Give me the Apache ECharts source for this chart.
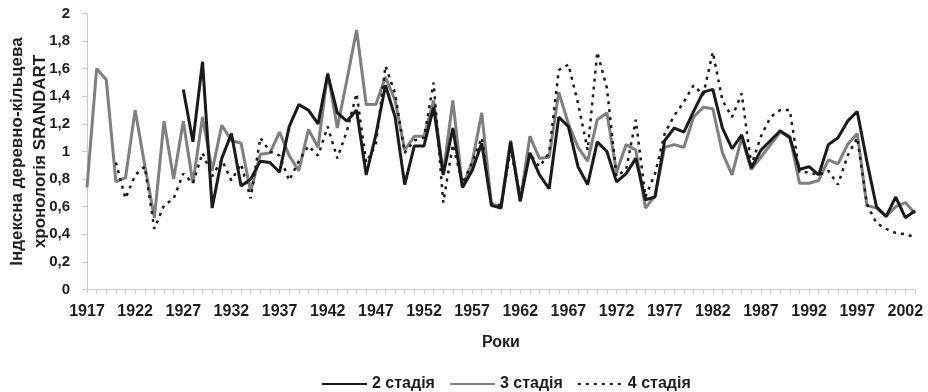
<!DOCTYPE html>
<html>
<head>
<meta charset="utf-8">
<script src="https://cdn.jsdelivr.net/npm/echarts@6/dist/echarts.min.js"></script>
<style>
  html, body { margin: 0; padding: 0; background: #fff; }
  #chart { width: 928px; height: 392px; }
</style>
</head>
<body>
<div id="chart"></div>
<script>
// Years of the tree-ring chronology
const years = [];
for (let y = 1917; y <= 2003; y++) years.push(String(y));

// Index values per stage (2 стадія begins in 1927, 4 стадія in 1920)
const stage2 = [
  null, null, null, null, null, null, null, null, null, null,
  1.45, 1.07, 1.65, 0.59, 0.95, 1.13, 0.75, 0.80, 0.93, 0.92,
  0.85, 1.18, 1.34, 1.30, 1.20, 1.56, 1.28, 1.22, 1.30, 0.83,
  1.12, 1.48, 1.25, 0.76, 1.04, 1.04, 1.32, 0.83, 1.17, 0.74,
  0.86, 1.06, 0.61, 0.59, 1.07, 0.64, 0.99, 0.83, 0.73, 1.25,
  1.18, 0.89, 0.76, 1.07, 1.00, 0.78, 0.84, 0.95, 0.65, 0.67,
  1.08, 1.17, 1.14, 1.29, 1.43, 1.45, 1.17, 1.02, 1.12, 0.88,
  1.01, 1.08, 1.15, 1.10, 0.87, 0.89, 0.83, 1.05, 1.10, 1.22,
  1.29, 0.93, 0.60, 0.53, 0.67, 0.52, 0.57
];
const stage3 = [
  0.74, 1.60, 1.52, 0.78, 0.81, 1.30, 0.90, 0.52, 1.22, 0.80,
  1.22, 0.77, 1.25, 0.86, 1.19, 1.08, 1.06, 0.71, 0.98, 0.99,
  1.14, 0.97, 0.86, 1.16, 1.03, 1.57, 1.17, 1.52, 1.88, 1.34,
  1.34, 1.54, 1.37, 1.01, 1.11, 1.11, 1.37, 0.84, 1.37, 0.74,
  0.92, 1.28, 0.62, 0.60, 1.08, 0.64, 1.11, 0.95, 0.96, 1.43,
  1.20, 1.03, 0.93, 1.23, 1.28, 0.85, 1.05, 1.01, 0.59, 0.68,
  1.03, 1.05, 1.03, 1.25, 1.32, 1.31, 0.99, 0.83, 1.10, 0.87,
  0.96, 1.05, 1.14, 1.11, 0.77, 0.77, 0.79, 0.94, 0.91, 1.05,
  1.13, 0.61, 0.59, 0.53, 0.60, 0.63, 0.55
];
const stage4 = [
  null, null, null, 0.92, 0.66, 0.83, 0.89, 0.44, 0.61, 0.66,
  0.84, 0.77, 0.99, 0.82, 0.94, 0.79, 0.91, 0.66, 1.10, 1.00,
  0.97, 0.79, 0.93, 1.04, 0.97, 1.18, 0.95, 1.15, 1.42, 0.92,
  1.05, 1.62, 1.42, 0.99, 1.08, 1.10, 1.50, 0.63, 1.05, 0.77,
  0.92, 1.10, 0.62, 0.61, 1.01, 0.68, 0.98, 0.89, 0.99, 1.59,
  1.63, 1.35, 1.01, 1.72, 1.46, 0.82, 0.87, 1.23, 0.67, 0.84,
  1.13, 1.26, 1.36, 1.48, 1.41, 1.72, 1.37, 1.25, 1.42, 0.90,
  1.11, 1.25, 1.30, 1.30, 0.85, 0.85, 0.83, 0.86, 0.76, 0.97,
  1.10, 0.62, 0.48, 0.44, 0.41, 0.40, 0.38
];

const FONT = 'Liberation Sans';
const TXT = '#1e1e1e';

const chart = echarts.init(document.getElementById('chart'), null, { renderer: 'canvas' });

chart.setOption({
  animation: false,
  backgroundColor: '#ffffff',
  grid: {
    left: 87, right: 13, top: 13.5, bottom: 102.5,
    containLabel: false,
    outerBoundsMode: 'none'
  },
  legend: {
    top: 371,
    left: 316,
    itemWidth: 45,
    itemHeight: 10,
    itemGap: 14,
    itemStyle: { opacity: 0 },
    textStyle: { fontFamily: FONT, fontSize: 16, fontWeight: 'bold', color: TXT },
    data: ['2 стадія', '3 стадія', '4 стадія']
  },
  xAxis: {
    type: 'category',
    data: years,
    boundaryGap: false,
    name: 'Роки',
    nameLocation: 'middle',
    nameGap: 45,
    nameMoveOverlap: false,
    nameTextStyle: { fontFamily: FONT, fontSize: 16, fontWeight: 'bold', color: TXT },
    axisLine: { lineStyle: { color: '#c8c8c8', width: 1 } },
    axisTick: { show: true, interval: 0, length: 4, lineStyle: { color: '#c8c8c8' } },
    axisLabel: {
      interval: 4,
      margin: 14,
      fontFamily: FONT, fontSize: 16, fontWeight: 'bold', color: TXT
    },
    splitLine: { show: false }
  },
  yAxis: {
    type: 'value',
    min: 0,
    max: 2,
    interval: 0.2,
    name: 'Індексна деревно-кільцева\nхронологія SRANDART',
    nameLocation: 'middle',
    nameRotate: 90,
    nameGap: 35,
    nameMoveOverlap: false,
    nameTextStyle: { fontFamily: FONT, fontSize: 17, fontWeight: 'bold', color: TXT, lineHeight: 23 },
    axisLine: { show: true, lineStyle: { color: '#c8c8c8', width: 1 } },
    axisTick: { show: true, length: 5, lineStyle: { color: '#c8c8c8' } },
    axisLabel: {
      margin: 17,
      fontFamily: FONT, fontSize: 15, fontWeight: 'bold', color: TXT,
      formatter: v => String(+v.toFixed(1)).replace('.', ',')
    },
    splitLine: { show: false }
  },
  series: [
    {
      name: '3 стадія',
      type: 'line',
      data: stage3,
      symbol: 'none',
      lineStyle: { color: '#7f7f7f', width: 3 },
      itemStyle: { color: '#7f7f7f' },
      z: 2
    },
    {
      name: '2 стадія',
      type: 'line',
      data: stage2,
      symbol: 'none',
      lineStyle: { color: '#1a1a1a', width: 3 },
      itemStyle: { color: '#1a1a1a' },
      z: 3
    },
    {
      name: '4 стадія',
      type: 'line',
      data: stage4,
      symbol: 'none',
      lineStyle: { color: '#1a1a1a', width: 2.5, type: [3, 5] },
      itemStyle: { color: '#1a1a1a' },
      z: 4
    }
  ]
});
</script>
</body>
</html>
